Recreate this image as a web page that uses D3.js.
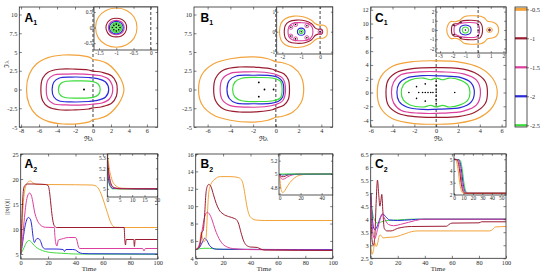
<!DOCTYPE html>
<html>
<head>
<meta charset="utf-8">
<script src="https://cdn.jsdelivr.net/npm/d3@7/dist/d3.min.js"></script>
<style>
  body { margin: 0; background: #fff; }
  svg { display: block; }
</style>
</head>
<body>
<div id="fig"></div>
<script>
// ---- data ----
// contour levels (colorbar) and their colours
var levels = [-0.5, -1, -1.5, -2, -2.5];
var levelColors = ["#f2a33a", "#9b1c31", "#dc3f9e", "#2a2ad8", "#3ddc3d"];

// contours: upper half (y >= 0), left to right; mirrored to close. order = levels
var a1Main = [
  [[-7.4,0],[-7.1,2.0],[-6.3,3.4],[-5,4.25],[-3.3,4.6],[-1.5,4.55],[-0.3,4.25],[0,4.0],[0.6,3.9],[1.6,3.45],[2.4,2.6],[3.1,1.4],[3.44,0]],
  [[-5.8,0],[-5.6,1.5],[-5.0,2.3],[-3.8,2.7],[-2,2.72],[-0.5,2.6],[0,2.45],[1,2.3],[2.1,1.8],[2.6,0.9],[2.7,0]],
  [[-5.2,0],[-5.0,1.3],[-4.4,1.9],[-3,2.05],[-1,2.05],[0,1.95],[1,1.8],[1.8,1.3],[2.2,0]],
  [[-4.55,0],[-4.35,1.0],[-3.8,1.5],[-2.5,1.65],[-0.5,1.6],[0.5,1.45],[1.4,1.0],[1.75,0]],
  [[-3.85,0],[-3.6,0.8],[-3.0,1.1],[-1.5,1.15],[0,1.05],[0.6,0.7],[0.8,0]]
];
var a1Inset = [
  [[-1.6,0],[-1.52,0.33],[-1.3,0.55],[-1,0.63],[-0.7,0.55],[-0.48,0.33],[-0.4,0]],
  [[-1.3,0],[-1.25,0.17],[-1.15,0.27],[-1,0.3],[-0.85,0.27],[-0.74,0.16],[-0.7,0]],
  [[-1.23,0],[-1.19,0.14],[-1.1,0.21],[-1,0.23],[-0.9,0.21],[-0.81,0.14],[-0.77,0]],
  [[-1.2,0],[-1.16,0.12],[-1.08,0.18],[-1,0.2],[-0.92,0.18],[-0.84,0.12],[-0.8,0]],
  [[-1.16,0],[-1.13,0.09],[-1.07,0.14],[-1,0.16],[-0.93,0.14],[-0.87,0.09],[-0.84,0]]
];
var a1Dots = [[-1,0]];
var a1InsetDots = [[-1,0],[-0.93,0.07],[-1.07,0.07],[-0.93,-0.07],[-1.07,-0.07],[-1,0.11],[-1,-0.11],[-0.89,0],[-1.11,0]];

var b1Main = [
  [[-6.8,0],[-6.5,2.0],[-5.5,3.4],[-4,4.1],[-2,4.35],[-0.7,4.1],[0,3.7],[0.5,3.6],[1.5,3.0],[2.2,1.8],[2.45,0]],
  [[-5.47,0],[-5.3,1.5],[-4.6,2.6],[-3.2,3.0],[-1.5,2.95],[-0.3,2.7],[0,2.5],[0.7,2.1],[1.1,1.3],[1.2,0]],
  [[-4.9,0],[-4.7,1.4],[-4,2.15],[-2.5,2.35],[-1,2.3],[0,2.0],[0.6,1.5],[0.85,0]],
  [[-4.3,0],[-4.1,1.2],[-3.5,1.8],[-2,1.9],[-0.5,1.85],[0.2,1.6],[0.6,1.0],[0.7,0]],
  [[-3.8,0],[-3.6,1.0],[-3,1.5],[-1.5,1.6],[-0.2,1.5],[0.4,1.1],[0.55,0]]
];
var b1Inset = [
  [[-2.15,0],[-2.08,0.4],[-1.85,0.65],[-1.4,0.78],[-0.9,0.75],[-0.5,0.6],[-0.25,0.4],[-0.05,0.33],[0.2,0.32],[0.36,0.18],[0.38,0]],
  [[-1.9,0],[-1.85,0.3],[-1.65,0.5],[-1.25,0.58],[-0.8,0.55],[-0.45,0.4],[-0.25,0.18],[-0.1,0.12],[0.08,0.12],[0.14,0]],
  [[-1.7,0],[-1.65,0.25],[-1.45,0.42],[-1.0,0.45],[-0.6,0.4],[-0.42,0.22],[-0.38,0]],
  [[-1.2,0],[-1.15,0.13],[-1,0.18],[-0.85,0.13],[-0.8,0]],
  [[-1.1,0],[-1.07,0.07],[-1,0.09],[-0.93,0.07],[-0.9,0]]
];
var b1Dots = [[-1.5,0.95],[-1.5,-0.95],[-1,0],[-0.2,0]];
var b1InsetDots = [[-1,0],[-1.55,0.22],[-1.55,-0.22],[-1.3,0.36],[-1.3,-0.36],[-0.7,0.3],[-0.7,-0.3],[0,0]];

var c1Main = [
  [[-5.4,0],[-5.1,2.2],[-4,3.8],[-2,4.5],[0,4.6],[2,4.45],[4,3.6],[5.2,2.0],[5.6,0]],
  [[-4.6,0],[-4.4,1.8],[-3.5,3.0],[-2,3.5],[0,3.6],[2,3.5],[3.5,2.9],[4.5,1.6],[4.7,0]],
  [[-4.1,0],[-3.9,1.5],[-3.2,2.6],[-1.5,3.0],[0.5,3.0],[2.5,2.7],[3.7,1.8],[4.06,0]],
  [[-3.6,0],[-3.4,1.3],[-2.7,2.1],[-1.2,2.45],[0.5,2.4],[2.2,2.2],[3.2,1.4],[3.5,0]],
  [[-3.2,0],[-3.0,1.1],[-2.4,1.8],[-1.2,2.1],[-0.5,1.85],[0,2.1],[0.6,1.85],[1.2,2.1],[2.2,1.8],[2.9,1.1],[3.1,0]]
];
var c1Inset = [
  [[-2.47,0],[-2.38,0.55],[-2.15,0.92],[-1.8,0.9],[-1.45,1.05],[-1.1,1.45],[-0.5,1.55],[0.2,1.5],[0.5,1.3],[0.75,0.95],[1.2,0.85],[1.5,0.55],[1.62,0]],
  [[-2.1,0],[-2.05,0.45],[-1.9,0.65],[-1.55,0.7],[-1.35,0.95],[-0.8,1.05],[-0.1,1.0],[0.15,0.85],[0.3,0.5],[0.35,0]],
  [[-1.9,0],[-1.85,0.4],[-1.65,0.58],[-1.3,0.75],[-0.7,0.82],[-0.15,0.75],[0.05,0.5],[0.12,0]],
  [[-1.45,0],[-1.38,0.35],[-1.2,0.5],[-1,0.55],[-0.8,0.5],[-0.62,0.35],[-0.55,0]],
  [[-1.25,0],[-1.2,0.2],[-1.1,0.3],[-1,0.32],[-0.9,0.3],[-0.8,0.2],[-0.75,0]]
];
var c1InsetKnobs = [
  [[0.68,0],[0.72,0.18],[0.9,0.26],[1.08,0.18],[1.12,0]],
  [[0.8,0],[0.84,0.1],[0.9,0.13],[0.96,0.1],[1.0,0]]
];
var c1Dots = [[-2.5,0],[-1.6,0],[-1.25,0],[-1.0,0],[-0.75,0],[-0.5,0],[-0.3,0],[-1.8,0.85],[-1.8,-0.85],[-1.0,1.25],[-1.0,-1.25],[0,0.5],[0,-0.5],[0,1.0],[0,-1.0],[0,1.6],[0,-1.6],[0,0],[1.7,0]];
var c1InsetDots = [[-1,0],[-1.9,0.5],[-1.9,-0.5],[-1.35,0.85],[-1.35,-0.85],[0,0.6],[0,-0.6],[0,0],[0.9,0]];

// time series ||x(t)||, order = levels (orange, dark red, magenta, blue, green)
var a2Series = [
  [[0,5],[1,11],[2,15.5],[3,17.8],[4,18.8],[6,19.5],[7,19.6],[9,19.2],[12,18.9],[20,18.9],[40,18.85],[52,18.8],[55,18.6],[57,18.0],[59,16.8],[61,15.2],[63,13.5],[65,11.8],[67,10.7],[69,10.35],[75,10.3],[100,10.3]],
  [[0,5],[0.5,9],[1,13],[1.5,16],[2,17.8],[3,18.7],[5,19.0],[10,19.0],[18,18.9],[20,18.7],[21,17.5],[22,15],[23,12.5],[24,11],[25,10.5],[26,10.3],[75.5,10.3],[76,7.8],[76.5,6.8],[77,7.9],[82.5,7.9],[83,6.5],[83.6,7.9],[100,7.9]],
  [[0,5],[1,7],[2,10],[3,13],[4,15.3],[5,16.6],[6.5,17.2],[8,16.5],[9,15.2],[10,13.6],[12,11.8],[14,10.9],[16,10.5],[18,10.35],[24.5,10.3],[25,8.5],[25.5,7.3],[26.5,6.6],[27.5,7.8],[30,8.0],[35,8.3],[40,8.3],[41,7.8],[42,6.6],[43,6.1],[89,6.1],[90,5.6],[91,6.1],[100,6.1]],
  [[0,5],[1,6.5],[2,8.5],[3,10.3],[4,11.5],[5.5,12.3],[7,12.0],[8,10.8],[9,8.5],[10,7.3],[11,7.8],[12,8.1],[13.5,8.0],[15,7.2],[16,6.4],[18,6.0],[25,6.0],[31,5.9],[32,5.5],[33,5.9],[38,5.9],[40,5.8],[42,5.4],[45,5.1],[50,5.05],[100,5.0]],
  [[0,5],[2,6],[4,7.2],[6,7.7],[7,7.6],[9,7.0],[11,6.4],[14,5.9],[18,5.5],[22,5.3],[30,5.15],[40,5.0],[100,4.95]]
];
var a2Inset = [
  [[0,5.36],[0.5,5.25],[1,5.17],[1.5,5.12],[2,5.08],[3,5.04],[4,5.02],[6,5.005],[20.3,5.0]],
  [[0,5.32],[0.5,5.18],[1,5.1],[1.5,5.05],[2,5.025],[3,5.01],[5,5.0],[20.3,5.0]],
  [[0,5.28],[0.5,5.14],[1,5.07],[1.5,5.035],[2,5.02],[3,5.005],[20.3,5.0]],
  [[0,5.22],[0.5,5.1],[1,5.04],[1.5,5.02],[2,5.005],[20.3,4.998]],
  [[0,5.16],[0.5,5.07],[1,5.03],[1.5,5.01],[2,5.0],[20.3,4.995]]
];
var b2Series = [
  [[0,5],[2,5.3],[3,5.8],[4,7.0],[5,6.3],[6,5.9],[7.5,6.3],[8.5,9],[9.5,11.5],[11,12.5],[14,13.1],[18,13.4],[25,13.4],[31,13.3],[33,13.1],[34.5,12.6],[36,11.3],[37.5,9.9],[39,9.0],[41,8.6],[44,8.4],[50,8.35],[100,8.35]],
  [[0,5],[2,5.2],[3.5,5.8],[4.5,7.0],[5.5,7.2],[6.5,9],[7.5,11.5],[8.5,12.3],[9.5,12.5],[11,12.3],[13,11.3],[15,10.3],[17,9.6],[20,9.1],[24,8.8],[28,8.6],[30,8.4],[31.5,7.9],[33,7.0],[35,6.0],[37,5.5],[40,5.3],[45,5.25],[47,5.1],[50,4.95],[100,4.9]],
  [[0,5],[2,5.3],[4,6.5],[5.5,8.0],[7,9.0],[8.5,9.3],[10,9.1],[12,8.4],[14,7.4],[16,6.6],[18,6.0],[20,5.6],[23,5.3],[28,5.1],[40,5.0],[100,4.95]],
  [[0,5],[3,5.3],[5,5.9],[6.5,6.3],[8,6.1],[10,5.5],[12,5.2],[15,5.05],[100,5.0]],
  [[0,5],[3,5.1],[6,5.15],[10,5.15],[14,5.08],[20,5.02],[100,5.0]]
];
var b2Inset = [
  [[0,5.0],[1,4.82],[2,4.74],[3,4.72],[5,4.75],[8,4.83],[12,4.91],[16,4.96],[22,4.99],[30,5.0],[50,5.0]],
  [[0,5.0],[2,4.96],[4,4.96],[7,4.98],[12,4.995],[50,5.0]],
  [[0,5.0],[1,4.95],[3,4.92],[5,4.93],[8,4.96],[12,4.985],[18,5.0],[50,5.0]],
  [[0,5.0],[3,4.985],[7,4.995],[50,5.0]],
  [[0,5.0],[50,5.0]]
];
var c2Series = [
  [[0,3.0],[1,2.65],[2,2.8],[3,3.1],[4,2.95],[5,3.05],[6,3.3],[7,3.4],[8,3.35],[9,3.28],[12,3.3],[18,3.32],[22,3.38],[26,3.45],[30,3.52],[35,3.55],[88,3.55],[90,3.6],[92,3.7],[100,3.72]],
  [[0,5.0],[1,3.2],[2,3.0],[3,3.3],[4,4.6],[5,5.5],[6,4.9],[6.8,4.5],[7.5,4.7],[8.2,4.95],[9,4.3],[10,3.65],[12,3.55],[15,3.55],[20,3.65],[25,3.7],[30,3.72],[56,3.73],[58,3.8],[60,3.85],[80,3.86],[82,3.9],[100,3.9]],
  [[0,5.0],[1,3.9],[2,3.35],[3,3.25],[5,3.6],[7,4.0],[8.5,4.2],[10,4.05],[13,3.8],[17,3.75],[22,3.8],[28,3.88],[33,3.95],[40,4.0],[100,4.0]],
  [[0,5.0],[1,4.2],[2,3.7],[3,3.6],[5,3.75],[7,4.05],[9,4.2],[11,4.1],[14,3.97],[20,3.95],[30,3.98],[36,4.0],[100,4.0]],
  [[0,5.0],[0.5,4.6],[1.5,4.2],[3,3.95],[5,3.85],[8,3.9],[12,3.95],[20,3.97],[30,4.0],[100,4.0]]
];
var c2Inset = [
  [[0,5],[2,4.95],[3,4.7],[4.5,4.0],[6,3.0],[7.5,2.4],[9,2.15],[11,2.1],[55,2.1]],
  [[0,5],[3,4.95],[4.5,4.7],[6,4.0],[7.5,3.0],[9,2.4],[10.5,2.15],[12.5,2.1],[55,2.1]],
  [[0,5],[4,4.95],[5.5,4.7],[7,4.0],[8.5,3.0],[10,2.4],[11.5,2.15],[13.5,2.1],[55,2.1]],
  [[0,5],[5,4.95],[6.5,4.7],[8,4.0],[9.5,3.0],[11,2.4],[12.5,2.15],[14.5,2.1],[55,2.1]],
  [[0,5],[6,4.95],[7.5,4.7],[9,4.0],[10.5,3.0],[12,2.4],[13.5,2.15],[15.5,2.1],[55,2.1]]
];

// tick values
var topYTicksAB = [-5, -2.5, 0, 2.5, 5, 7.5, 10];
var a1XTicks = [-8, -6, -4, -2, 0, 2, 4, 6];
var b1XTicks = [-6, -4, -2, 0, 2, 4];
var c1XTicks = [-6, -4, -2, 0, 2, 4, 6];
var c1YTicks = [-4, -2, 0, 2, 4, 6, 8, 10, 12];
var a1InsetXTicks = [-1.5, -1, -0.5, 0], a1InsetYTicks = [-0.5, 0, 0.5];
var b1InsetXTicks = [-2, -1, 0], b1InsetYTicks = [-1, 0, 1];
var c1InsetXTicks = [-3, -2, -1, 0, 1, 2], c1InsetYTicks = [-2, -1, 0, 1, 2];
var timeTicks = [0, 20, 40, 60, 80, 100];
var a2YTicks = [5, 10, 15, 20, 25];
var b2YTicks = [4, 6, 8, 10, 12, 14, 16];
var c2YTicks = [2.5, 3, 3.5, 4, 4.5, 5, 5.5, 6, 6.5];
var a2InsetXTicks = [0, 5, 10, 15, 20], a2InsetYTicks = [5, 5.1, 5.2, 5.3];
var b2InsetXTicks = [0, 20, 40], b2InsetYTicks = [4.8, 5, 5.2];
var c2InsetXTicks = [0, 10, 20, 30, 40, 50], c2InsetYTicks = [2, 3, 4, 5];

(function(d3) {
    "use strict";

    var W = 543, H = 271;
    var serif = "Liberation Serif, DejaVu Serif, serif";
    var ink = "#2b2b2b";
    var clipId = 0;

    var svg = d3.select("#fig").append("svg")
        .attr("width", W)
        .attr("height", H);

    var fmt = function(d) { return String(d); };

    // box = [left, right, top, bottom] in px
    function panel(box, xDom, yDom, xTicks, yTicks, opt) {
        var x = d3.scaleLinear().domain(xDom).range([box[0], box[1]]);
        var y = d3.scaleLinear().domain(yDom).range([box[3], box[2]]);
        var g = svg.append("g");
        var tl = opt.tick, fs = opt.fs;

        g.append("rect")
            .attr("x", box[0]).attr("y", box[2])
            .attr("width", box[1] - box[0]).attr("height", box[3] - box[2])
            .attr("fill", "#fff");

        var id = "clip" + (clipId++);
        svg.append("clipPath").attr("id", id).append("rect")
            .attr("x", box[0]).attr("y", box[2])
            .attr("width", box[1] - box[0]).attr("height", box[3] - box[2]);
        var plot = g.append("g").attr("clip-path", "url(#" + id + ")");

        var axG = g.append("g");
        axG.append("g").attr("transform", "translate(0," + box[3] + ")")
            .call(d3.axisBottom(x).tickValues(xTicks).tickSizeInner(-tl).tickSizeOuter(0).tickPadding(opt.xpad).tickFormat(fmt));
        axG.append("g").attr("transform", "translate(0," + box[2] + ")")
            .call(d3.axisTop(x).tickValues(xTicks).tickSizeInner(-tl).tickSizeOuter(0).tickFormat(""));
        axG.append("g").attr("transform", "translate(" + box[0] + ",0)")
            .call(d3.axisLeft(y).tickValues(yTicks).tickSizeInner(-tl).tickSizeOuter(0).tickPadding(opt.ypad).tickFormat(fmt));
        axG.append("g").attr("transform", "translate(" + box[1] + ",0)")
            .call(d3.axisRight(y).tickValues(yTicks).tickSizeInner(-tl).tickSizeOuter(0).tickFormat(""));
        axG.selectAll(".domain").remove();
        axG.selectAll(".tick line").attr("stroke", ink).attr("stroke-width", 0.6);
        axG.selectAll(".tick text")
            .attr("font-family", serif)
            .attr("font-size", fs)
            .attr("fill", ink);

        g.append("rect")
            .attr("x", box[0]).attr("y", box[2])
            .attr("width", box[1] - box[0]).attr("height", box[3] - box[2])
            .attr("fill", "none")
            .attr("stroke", ink)
            .attr("stroke-width", 0.8);

        return { x: x, y: y, g: g, plot: plot };
    }

    function mirror(upper) {
        var lower = upper.slice(1, -1).reverse().map(function(p) { return [p[0], -p[1]]; });
        return upper.concat(lower);
    }

    function drawContours(p, sets, width, fillLast) {
        var line = d3.line()
            .curve(d3.curveCatmullRomClosed.alpha(0.5))
            .x(function(d) { return p.x(d[0]); })
            .y(function(d) { return p.y(d[1]); });
        sets.forEach(function(c, i) {
            p.plot.append("path")
                .attr("d", line(mirror(c)))
                .attr("fill", fillLast && i === sets.length - 1 ? levelColors[i] : "none")
                .attr("fill-opacity", 0.75)
                .attr("stroke", levelColors[i])
                .attr("stroke-width", width);
        });
    }

    function zeroLine(p) {
        p.plot.append("line")
            .attr("x1", p.x(0)).attr("x2", p.x(0))
            .attr("y1", p.y.range()[0]).attr("y2", p.y.range()[1])
            .attr("stroke", "#111")
            .attr("stroke-width", 0.8)
            .attr("stroke-dasharray", "3,2");
    }

    function dots(p, pts, r) {
        p.plot.selectAll(null).data(pts).enter().append("circle")
            .attr("cx", function(d) { return p.x(d[0]); })
            .attr("cy", function(d) { return p.y(d[1]); })
            .attr("r", r)
            .attr("fill", "#000");
    }

    function drawSeries(p, series, width, order) {
        var line = d3.line()
            .curve(d3.curveMonotoneX)
            .x(function(d) { return p.x(d[0]); })
            .y(function(d) { return p.y(d[1]); });
        order.forEach(function(i) {
            p.plot.append("path")
                .attr("d", line(series[i]))
                .attr("fill", "none")
                .attr("stroke", levelColors[i])
                .attr("stroke-width", width)
                .attr("stroke-linejoin", "round");
        });
    }

    function panelLabel(x, y, letter, sub) {
        var t = svg.append("text")
            .attr("x", x).attr("y", y)
            .attr("font-family", "Liberation Sans, Arial, sans-serif")
            .attr("font-weight", "bold")
            .attr("font-size", 12)
            .attr("fill", "#000");
        t.append("tspan").text(letter);
        t.append("tspan").attr("font-size", 7).attr("dy", 3.3).text(sub);
    }

    function axisText(x, y, txt, rot, size) {
        svg.append("text")
            .attr("transform", "translate(" + x + "," + y + ")" + (rot ? " rotate(-90)" : ""))
            .attr("text-anchor", "middle")
            .attr("font-family", serif)
            .attr("font-size", size || 7)
            .attr("fill", ink)
            .text(txt);
    }

    var mainOpt = { tick: 2.5, fs: 6.3, xpad: 1.8, ypad: 2 };
    var insetOpt = { tick: 1.8, fs: 5.4, xpad: 1.5, ypad: 1.5 };

    // ---------- top row: pseudospectra ----------
    var a1 = panel([19.3, 157.7, 7, 127], [-8.2, 7.2], [-5, 11], a1XTicks, topYTicksAB, mainOpt);
    zeroLine(a1);
    drawContours(a1, a1Main, 1.2, false);
    dots(a1, a1Dots, 1);
    var a1i = panel([94, 157.7, 7, 50], [-1.645, 0.2], [-0.72, 0.66], a1InsetXTicks, a1InsetYTicks, insetOpt);
    zeroLine(a1i);
    drawContours(a1i, a1Inset, 1.1, true);
    dots(a1i, a1InsetDots, 0.8);

    var b1 = panel([194, 332.7, 7, 127], [-7.2, 5], [-5, 11], b1XTicks, topYTicksAB, mainOpt);
    zeroLine(b1);
    drawContours(b1, b1Main, 1.2, false);
    dots(b1, b1Dots, 0.9);
    var b1i = panel([276.7, 332.7, 7, 54], [-2.3, 0.67], [-1.115, 1.235], b1InsetXTicks, b1InsetYTicks, insetOpt);
    zeroLine(b1i);
    drawContours(b1i, b1Inset, 1.1, false);
    b1i.plot.selectAll(null).data(b1InsetDots.slice(1)).enter().append("circle")
        .attr("cx", function(d) { return b1i.x(d[0]); })
        .attr("cy", function(d) { return b1i.y(d[1]); })
        .attr("r", 2)
        .attr("fill", "none")
        .attr("stroke", levelColors[2])
        .attr("stroke-width", 0.9);
    dots(b1i, b1InsetDots, 0.8);

    var c1 = panel([370.7, 506, 7, 127], [-6, 6.4], [-5, 12.4], c1XTicks, c1YTicks, mainOpt);
    zeroLine(c1);
    drawContours(c1, c1Main, 1.2, false);
    dots(c1, c1Dots, 0.8);
    var c1i = panel([436, 506, 7, 53], [-3.32, 2.2], [-2.5, 2.5], c1InsetXTicks, c1InsetYTicks, insetOpt);
    zeroLine(c1i);
    drawContours(c1i, c1Inset, 1.1, false);
    var knobLine = d3.line().curve(d3.curveCatmullRomClosed.alpha(0.5))
        .x(function(d) { return c1i.x(d[0]); })
        .y(function(d) { return c1i.y(d[1]); });
    c1InsetKnobs.forEach(function(k, i) {
        c1i.plot.append("path").attr("d", knobLine(mirror(k)))
            .attr("fill", "none").attr("stroke", levelColors[i]).attr("stroke-width", 1);
    });
    dots(c1i, c1InsetDots, 0.8);

    // colorbar
    var cb = d3.scaleLinear().domain([-2.53, -0.46]).range([127, 7]);
    var cbG = svg.append("g");
    cbG.append("rect").attr("x", 515).attr("y", 7).attr("width", 12).attr("height", 120).attr("fill", "#fff");
    cbG.selectAll(null).data(levels).enter().append("line")
        .attr("x1", 515).attr("x2", 527)
        .attr("y1", function(d) { return cb(d); })
        .attr("y2", function(d) { return cb(d); })
        .attr("stroke", function(d, i) { return levelColors[i]; })
        .attr("stroke-width", function(d, i) { return i === 0 ? 3 : 2.2; });
    var cbAx = cbG.append("g").attr("transform", "translate(527,0)")
        .call(d3.axisRight(cb).tickValues(levels).tickSizeInner(2).tickSizeOuter(0).tickPadding(1).tickFormat(fmt));
    cbAx.select(".domain").remove();
    cbAx.selectAll(".tick line").attr("stroke", ink).attr("stroke-width", 0.6);
    cbAx.selectAll(".tick text").attr("font-family", serif).attr("font-size", 6.3).attr("fill", ink);
    cbG.append("rect").attr("x", 515).attr("y", 7).attr("width", 12).attr("height", 120)
        .attr("fill", "none").attr("stroke", ink).attr("stroke-width", 0.8);

    // ---------- bottom row: ||x(t)|| ----------
    var a2 = panel([20.7, 157.7, 154, 259], [0, 100], [4, 25], timeTicks, a2YTicks, mainOpt);
    drawSeries(a2, a2Series, 1, [4, 3, 2, 0, 1]);
    var a2i = panel([107.3, 157.7, 154, 197], [0, 20.3], [4.92, 5.34], a2InsetXTicks, a2InsetYTicks, insetOpt);
    drawSeries(a2i, a2Inset, 1, [0, 4, 3, 2, 1]);

    var b2 = panel([195.7, 332.7, 154, 258.3], [0, 100], [4, 16], timeTicks, b2YTicks, mainOpt);
    drawSeries(b2, b2Series, 1, [4, 3, 0, 2, 1]);
    var b2i = panel([279, 332.7, 154, 195], [-0.5, 50.5], [4.685, 5.3], b2InsetXTicks, b2InsetYTicks, insetOpt);
    drawSeries(b2i, b2Inset, 1, [0, 1, 2, 3, 4]);

    var c2 = panel([370.7, 506, 154, 258.3], [0, 100], [2.5, 6.5], timeTicks, c2YTicks, mainOpt);
    drawSeries(c2, c2Series, 1, [4, 3, 0, 1, 2]);
    var c2i = panel([454, 506, 154, 195], [0, 55], [1.95, 5.45], c2InsetXTicks, c2InsetYTicks, insetOpt);
    drawSeries(c2i, c2Inset, 1, [4, 3, 2, 0, 1]);

    // labels
    panelLabel(24.5, 21.7, "A", "1");
    panelLabel(200.5, 21.7, "B", "1");
    panelLabel(375, 21.7, "C", "1");
    panelLabel(24.5, 168.3, "A", "2");
    panelLabel(200.5, 168.3, "B", "2");
    panelLabel(375, 168.3, "C", "2");

    axisText(88.5, 141, "\u211C\u03BB");
    axisText(263.3, 141, "\u211C\u03BB");
    axisText(438.3, 141, "\u211C\u03BB");
    axisText(8.5, 64, "\u2111\u03BB", true);
    axisText(8.5, 207, "||x(t)||", true);
    axisText(89, 270.5, "Time", false, 7);
    axisText(264, 270.5, "Time", false, 7);
    axisText(438, 270.5, "Time", false, 7);

})(d3);
</script>
</body>
</html>
